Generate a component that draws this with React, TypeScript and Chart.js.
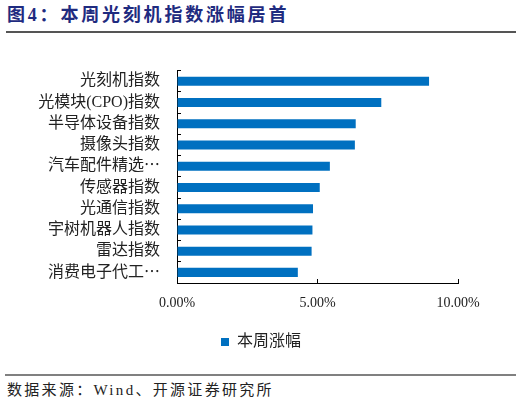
import React, { useEffect, useRef } from 'react';
import Chart from 'chart.js/auto';

const categories = [
  '光刻机指数',
  '光模块(CPO)指数',
  '半导体设备指数',
  '摄像头指数',
  '汽车配件精选⋯',
  '传感器指数',
  '光通信指数',
  '宇树机器人指数',
  '雷达指数',
  '消费电子代工⋯',
];
const weeklyGain = [8.97, 7.27, 6.36, 6.33, 5.44, 5.08, 4.84, 4.82, 4.79, 4.3];
const xTicks = [0, 5, 10];

const CJK = "'Liberation Serif', 'Noto Sans CJK SC', serif";

const App: React.FC = () => {
  const canvasRef = useRef<HTMLCanvasElement>(null);

  useEffect(() => {
    let chart: Chart | null = null;
    const ctx = canvasRef.current?.getContext('2d');
    if (ctx) {
      chart = new Chart(ctx, {
        type: 'bar',
        data: {
          labels: categories,
          datasets: [{
            label: '本周涨幅',
            data: weeklyGain,
            backgroundColor: '#0070C0',
            barPercentage: 0.85,
            categoryPercentage: 0.5,
          }],
        },
        options: {
          indexAxis: 'y',
          animation: false,
          responsive: false,
          maintainAspectRatio: false,
          layout: { padding: { top: 21, left: 0, right: 0, bottom: 0 } },
          scales: {
            x: {
              min: xTicks[0],
              max: xTicks[xTicks.length - 1],
              afterBuildTicks: (s: any) => { s.ticks = xTicks.map(v => ({ value: v })); },
              afterFit: (s: any) => { s.height = 42; },
              ticks: {
                callback: (v: any) => Number(v).toFixed(2) + '%',
                font: { family: CJK, size: 14 },
                color: '#222',
                padding: 16,
                maxRotation: 0,
              },
              grid: { drawOnChartArea: false, tickLength: -4, color: '#000' },
              border: { color: '#000', width: 1 },
            },
            y: {
              afterFit: (s: any) => { s.width = 177; },
              ticks: {
                font: { family: CJK, size: 16 },
                color: '#222',
                padding: 21,
                autoSkip: false,
              },
              grid: { drawOnChartArea: false, tickLength: -4, color: '#000', offset: true },
              border: { color: '#000', width: 1 },
            },
            // empty right-hand spacer so the plot ends at 10% and the legend stays centred
            spacer: {
              type: 'category',
              position: 'right',
              afterFit: (s: any) => { s.width = 64; },
              ticks: { display: false },
              grid: { display: false },
              border: { display: false },
            },
          },
          plugins: {
            legend: {
              position: 'bottom',
              labels: {
                boxWidth: 8,
                boxHeight: 8,
                padding: 9,
                color: '#222',
                font: { family: CJK, size: 16 },
              },
            },
            tooltip: { enabled: false },
          },
        },
      });
    }
    return () => {
      if (chart) chart.destroy();
    };
  }, []);

  return (
    <div style={{ position: 'fixed', left: 0, top: 0, width: 522, height: 404, background: '#fff', overflow: 'hidden' }}>
      <div style={{
        position: 'absolute', left: 7, top: 6, fontSize: 18, lineHeight: '19px', fontWeight: 700,
        letterSpacing: '2.8px', color: '#1F2B80', fontFamily: CJK, whiteSpace: 'nowrap',
      }}>
        图4：本周光刻机指数涨幅居首
      </div>
      <div style={{ position: 'absolute', left: 6, top: 31, width: 510, height: 2, background: '#555' }} />
      <canvas ref={canvasRef} width={522} height={320} style={{ position: 'absolute', left: 0, top: 40, width: 522, height: 320 }} />
      <div style={{ position: 'absolute', left: 5, top: 374, width: 511, height: 2, background: '#808080' }} />
      <div style={{
        position: 'absolute', left: 7, top: 382, fontSize: 15, lineHeight: '16px',
        letterSpacing: '2.3px', color: '#222', fontFamily: CJK, whiteSpace: 'nowrap',
      }}>
        数据来源：Wind、开源证券研究所
      </div>
    </div>
  );
};

export default App;
